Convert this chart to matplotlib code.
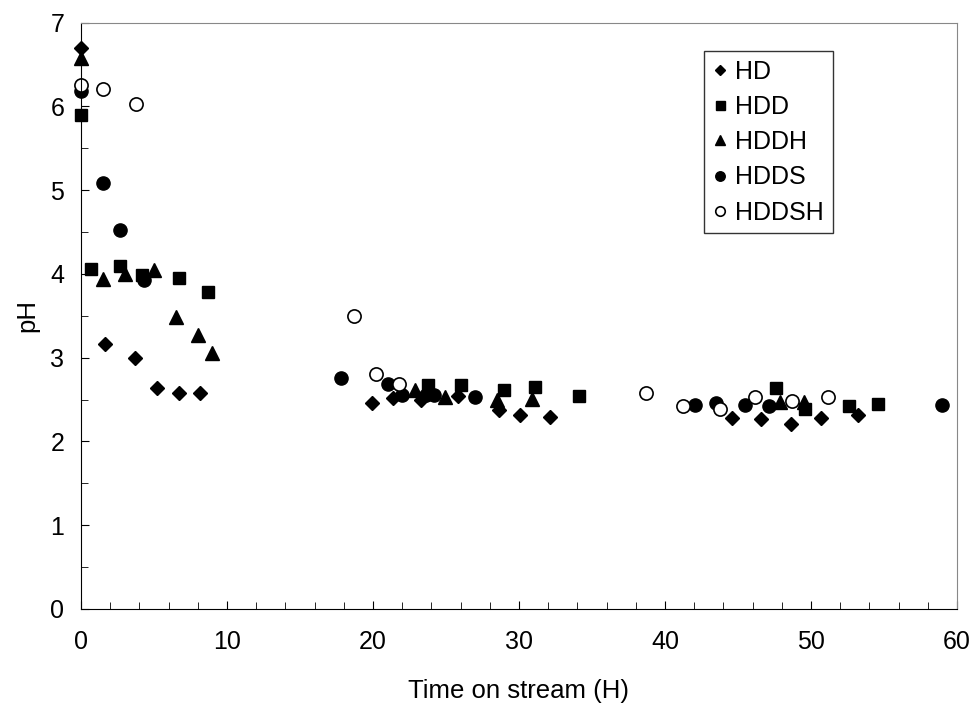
import matplotlib.pyplot as plt
from matplotlib.ticker import MultipleLocator

plt.rcParams['font.family'] = ['Liberation Sans', 'DejaVu Sans']

# tiempo (h) y pH para cada serie
hd_t = [0, 1.67, 3.7, 5.18, 6.69, 8.17, 19.9, 21.4, 23.3, 25.8, 28.6, 30.1, 32.1,
        44.6, 46.6, 48.6, 50.7, 53.2]
hd_ph = [6.7, 3.16, 3.0, 2.64, 2.58, 2.58, 2.46, 2.52, 2.5, 2.54, 2.38, 2.32, 2.29,
         2.28, 2.27, 2.21, 2.28, 2.31]

hdd_t = [0, 0.66, 2.67, 4.15, 6.73, 8.68, 23.8, 26.0, 29.0, 31.1, 34.1,
         47.6, 49.6, 52.6, 54.6]
hdd_ph = [5.9, 4.06, 4.10, 3.99, 3.95, 3.79, 2.67, 2.67, 2.61, 2.65, 2.54,
          2.64, 2.39, 2.42, 2.45]

hddh_t = [0, 1.53, 3.0, 5.0, 6.5, 8.0, 9.0, 22.9, 24.9, 28.5, 30.9, 47.9, 49.5]
hddh_ph = [6.58, 3.94, 4.0, 4.05, 3.48, 3.27, 3.06, 2.62, 2.53, 2.49, 2.51, 2.47, 2.47]

hdds_t = [0, 1.53, 2.67, 4.3, 17.8, 21.05, 22.0, 23.6, 24.2, 27.0,
          42.05, 43.5, 45.5, 47.1, 59.0]
hdds_ph = [6.19, 5.09, 4.53, 3.93, 2.76, 2.69, 2.55, 2.55, 2.55, 2.53,
           2.44, 2.46, 2.43, 2.42, 2.43]

hddsh_t = [0, 1.48, 3.74, 18.72, 20.2, 21.8, 38.7, 41.2, 43.8, 46.2, 48.7, 51.2]
hddsh_ph = [6.25, 6.21, 6.03, 3.50, 2.80, 2.69, 2.58, 2.42, 2.39, 2.53, 2.48, 2.53]

fig = plt.figure(figsize=(9.75, 7.04), dpi=100)
ax = fig.add_axes([0.0831, 0.135, 0.8984, 0.8328])

ax.plot(hd_t, hd_ph, 'D', color='k', ms=7.5, ls='none', label='HD', clip_on=False)
ax.plot(hdd_t, hdd_ph, 's', color='k', ms=9, ls='none', label='HDD', clip_on=False)
ax.plot(hddh_t, hddh_ph, '^', color='k', ms=10, ls='none', label='HDDH', clip_on=False)
ax.plot(hdds_t, hdds_ph, 'o', color='k', ms=9.5, ls='none', label='HDDS', clip_on=False)
ax.plot(hddsh_t, hddsh_ph, 'o', mfc='white', mec='k', mew=1.2, ms=9.5, ls='none',
        label='HDDSH', clip_on=False)

ax.set_xlim(0, 60)
ax.set_ylim(0, 7)
ax.xaxis.set_major_locator(MultipleLocator(10))
ax.xaxis.set_minor_locator(MultipleLocator(2))
ax.yaxis.set_major_locator(MultipleLocator(1))
ax.yaxis.set_minor_locator(MultipleLocator(0.5))
ax.tick_params(which='both', direction='in', labelsize=18)
ax.tick_params(which='major', length=6)
ax.tick_params(which='minor', length=5)
ax.tick_params(axis='x', pad=15)
ax.tick_params(axis='y', pad=12)

for s in ['top', 'right']:
    ax.spines[s].set_color('#888888')
for s in ['left', 'bottom']:
    ax.spines[s].set_color('black')

ax.set_xlabel('Time on stream (H)', fontsize=18.5, labelpad=18)
ax.set_ylabel('pH', fontsize=18.5, labelpad=8)

leg = ax.legend(loc='upper left', bbox_to_anchor=(0.711, 0.952), fontsize=18,
                frameon=True, fancybox=False, edgecolor='black', markerscale=0.72,
                handlelength=0.6, handletextpad=0.3, borderpad=0.35,
                labelspacing=0.45, borderaxespad=0)
leg.get_frame().set_linewidth(1.0)

fig.savefig('out.png', dpi=100)
